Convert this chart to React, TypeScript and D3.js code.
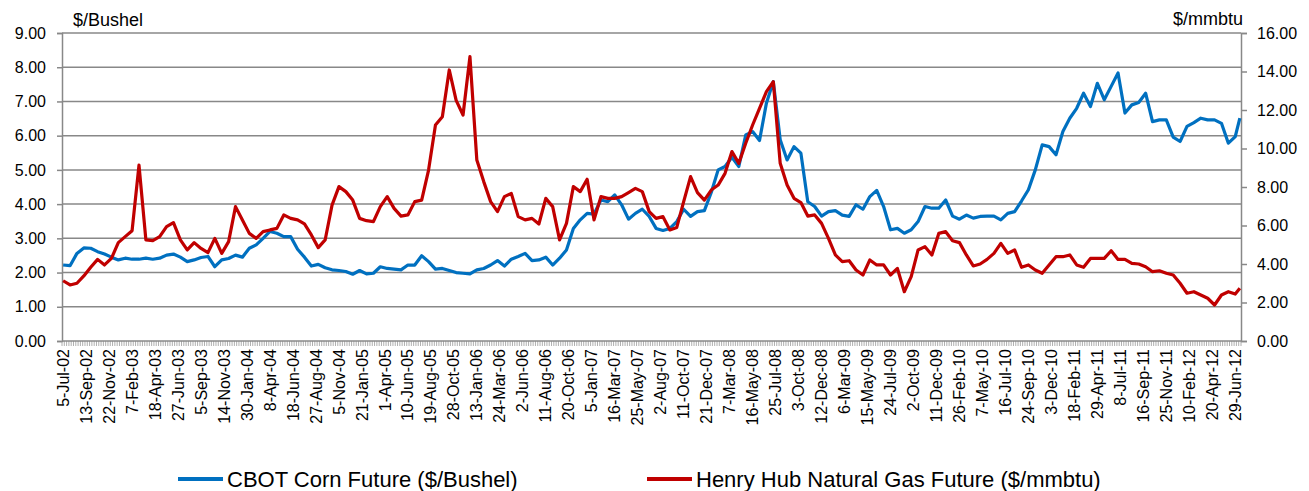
import React, { useEffect, useRef } from "react";
import * as d3 from "d3";

// weekly category axis, one sample every 3rd week (last one is week 512)
const weekCount = 513;
const sampleStep = 3;

const tickLabels = [
  "5-Jul-02", "13-Sep-02", "22-Nov-02", "7-Feb-03", "18-Apr-03", "27-Jun-03", "5-Sep-03", "14-Nov-03",
  "30-Jan-04", "8-Apr-04", "18-Jun-04", "27-Aug-04", "5-Nov-04", "21-Jan-05", "1-Apr-05", "10-Jun-05",
  "19-Aug-05", "28-Oct-05", "13-Jan-06", "24-Mar-06", "2-Jun-06", "11-Aug-06", "20-Oct-06", "5-Jan-07",
  "16-Mar-07", "25-May-07", "2-Aug-07", "11-Oct-07", "21-Dec-07", "7-Mar-08", "16-May-08", "25-Jul-08",
  "3-Oct-08", "12-Dec-08", "6-Mar-09", "15-May-09", "24-Jul-09", "2-Oct-09", "11-Dec-09", "26-Feb-10",
  "7-May-10", "16-Jul-10", "24-Sep-10", "3-Dec-10", "18-Feb-11", "29-Apr-11", "8-Jul-11", "16-Sep-11",
  "25-Nov-11", "10-Feb-12", "20-Apr-12", "29-Jun-12",
];

// CBOT corn ($/bushel)
const corn = [
  2.22, 2.20, 2.56, 2.72, 2.71, 2.61, 2.54, 2.45, 2.37, 2.42, 2.39, 2.39, 2.42, 2.39, 2.42, 2.51,
  2.54, 2.45, 2.32, 2.37, 2.44, 2.47, 2.17, 2.37, 2.41, 2.51, 2.45, 2.71, 2.81, 3.00, 3.20, 3.15,
  3.05, 3.05, 2.68, 2.45, 2.19, 2.24, 2.14, 2.08, 2.06, 2.03, 1.95, 2.06, 1.96, 1.98, 2.17, 2.12,
  2.10, 2.08, 2.22, 2.22, 2.49, 2.32, 2.10, 2.12, 2.06, 2.00, 1.98, 1.96, 2.08, 2.12, 2.22, 2.35,
  2.19, 2.39, 2.47, 2.56, 2.35, 2.37, 2.45, 2.22, 2.42, 2.66, 3.29, 3.54, 3.73, 3.71, 4.12, 4.07,
  4.27, 3.98, 3.56, 3.73, 3.85, 3.64, 3.29, 3.23, 3.29, 3.49, 3.85, 3.64, 3.78, 3.81, 4.34, 5.00,
  5.10, 5.37, 5.10, 6.02, 6.12, 5.86, 6.95, 7.58, 5.88, 5.29, 5.68, 5.49, 4.07, 3.93, 3.65, 3.78,
  3.81, 3.68, 3.64, 3.98, 3.85, 4.22, 4.40, 3.93, 3.25, 3.29, 3.15, 3.25, 3.49, 3.93, 3.88, 3.88,
  4.12, 3.65, 3.56, 3.68, 3.59, 3.64, 3.65, 3.65, 3.54, 3.73, 3.78, 4.09, 4.42, 5.00, 5.73, 5.68,
  5.44, 6.12, 6.51, 6.80, 7.24, 6.85, 7.53, 7.05, 7.44, 7.83, 6.66, 6.90, 6.97, 7.24, 6.41, 6.46,
  6.46, 5.96, 5.83, 6.27, 6.38, 6.51, 6.46, 6.46, 6.36, 5.78, 5.97, 6.51,
];

// Henry Hub natural gas ($/mmbtu)
const gas = [
  3.13, 2.91, 3.00, 3.38, 3.83, 4.24, 3.95, 4.29, 5.11, 5.42, 5.73, 9.14, 5.25, 5.21, 5.42, 5.94,
  6.15, 5.25, 4.73, 5.11, 4.81, 4.59, 5.33, 4.55, 5.16, 6.98, 6.29, 5.59, 5.33, 5.68, 5.77, 5.85,
  6.55, 6.37, 6.29, 6.08, 5.51, 4.85, 5.25, 7.06, 8.02, 7.76, 7.32, 6.37, 6.25, 6.20, 6.98, 7.50,
  6.89, 6.49, 6.55, 7.24, 7.32, 8.88, 11.22, 11.65, 14.08, 12.50, 11.74, 14.77, 9.40, 8.28, 7.24, 6.72,
  7.50, 7.67, 6.46, 6.29, 6.37, 6.08, 7.41, 6.98, 5.25, 6.11, 8.02, 7.76, 8.40, 6.29, 7.50, 7.41,
  7.41, 7.50, 7.71, 7.93, 7.76, 6.72, 6.37, 6.46, 5.77, 5.90, 7.24, 8.54, 7.71, 7.32, 7.84, 8.10,
  8.71, 9.84, 9.23, 10.27, 11.22, 12.09, 12.95, 13.47, 9.23, 8.10, 7.41, 7.19, 6.49, 6.55, 6.11, 5.33,
  4.47, 4.12, 4.17, 3.69, 3.43, 4.21, 3.95, 3.95, 3.43, 3.77, 2.56, 3.34, 4.73, 4.90, 4.47, 5.59,
  5.68, 5.21, 5.11, 4.47, 3.90, 4.00, 4.24, 4.55, 5.07, 4.55, 4.73, 3.83, 3.95, 3.69, 3.52, 3.95,
  4.38, 4.38, 4.47, 3.95, 3.83, 4.29, 4.29, 4.29, 4.69, 4.24, 4.24, 4.03, 4.00, 3.86, 3.60, 3.65,
  3.52, 3.43, 3.00, 2.48, 2.56, 2.39, 2.22, 1.87, 2.39, 2.56, 2.44, 2.74,
];

const leftTicks = [0, 1, 2, 3, 4, 5, 6, 7, 8, 9];
const rightTicks = [0, 2, 4, 6, 8, 10, 12, 14, 16];

const seriesNames = ["CBOT Corn Future ($/Bushel)", "Henry Hub Natural Gas Future ($/mmbtu)"];
const seriesColors = ["#0070C0", "#C00000"];

const font = "'Liberation Sans', Arial, sans-serif";
const axisGray = "#888888";

function Chart() {
  const ref = useRef<SVGSVGElement>(null);

  useEffect(() => {
    const svg = d3.select(ref.current);
    svg.selectAll("*").remove();

    const left = 62, right = 1241, top = 33, bottom = 341;

    const x = d3.scaleLinear().domain([0, weekCount]).range([left, right]);
    const yL = d3.scaleLinear().domain([0, 9]).range([bottom, top]);
    const yR = d3.scaleLinear().domain([0, 16]).range([bottom, top]);

    const weekOf = (k: number) => Math.min(k * sampleStep, weekCount - 1);

    // gridlines
    svg.append("g")
      .selectAll("line")
      .data(leftTicks.slice(1))
      .join("line")
      .attr("x1", left).attr("x2", right)
      .attr("y1", d => yL(d)).attr("y2", d => yL(d))
      .attr("stroke", axisGray).attr("stroke-width", 1.5);

    // left axis
    const gl = svg.append("g")
      .attr("transform", `translate(${left},0)`)
      .call(d3.axisLeft(yL).tickValues(leftTicks).tickSize(5).tickFormat(d3.format(".2f")));
    gl.select(".domain").attr("stroke", axisGray).attr("stroke-width", 1.5);
    gl.selectAll(".tick line").attr("stroke", axisGray).attr("stroke-width", 1.5);
    gl.selectAll(".tick text").attr("x", -16).attr("font-size", 16).attr("font-family", font).attr("fill", "#000");

    // right axis
    const gr = svg.append("g")
      .attr("transform", `translate(${right},0)`)
      .call(d3.axisRight(yR).tickValues(rightTicks).tickSize(6).tickFormat(d3.format(".2f")));
    gr.select(".domain").attr("stroke", axisGray).attr("stroke-width", 1.5);
    gr.selectAll(".tick line").attr("stroke", axisGray).attr("stroke-width", 1.5);
    gr.selectAll(".tick text").attr("x", 16).attr("font-size", 16).attr("font-family", font).attr("fill", "#000");

    // bottom axis: a tick between every weekly category, labels every 10th week
    const gx = svg.append("g").attr("transform", `translate(0,${bottom})`);
    gx.selectAll("line.minor")
      .data(d3.range(weekCount + 1))
      .join("line")
      .attr("class", "minor")
      .attr("x1", d => x(d)).attr("x2", d => x(d))
      .attr("y1", 0).attr("y2", 5)
      .attr("stroke", "#9a9a9a").attr("stroke-width", 0.8);
    gx.append("line")
      .attr("x1", left).attr("x2", right)
      .attr("stroke", axisGray).attr("stroke-width", 1.5);
    gx.selectAll("text")
      .data(tickLabels)
      .join("text")
      .attr("transform", (d, i) => `translate(${x(i * 10 + 0.5)},8) rotate(-90)`)
      .attr("dy", "0.35em")
      .attr("text-anchor", "end")
      .attr("font-size", 16)
      .attr("font-family", font)
      .text(d => d);

    // axis titles
    svg.append("text").attr("x", 73).attr("y", 26)
      .attr("font-size", 18).attr("font-family", font).text("$/Bushel");
    svg.append("text").attr("x", 1243).attr("y", 25).attr("text-anchor", "end")
      .attr("font-size", 18).attr("font-family", font).text("$/mmbtu");

    // series
    const cornLine = d3.line<number>().x((d, k) => x(weekOf(k) + 0.5)).y(d => yL(d));
    const gasLine = d3.line<number>().x((d, k) => x(weekOf(k) + 0.5)).y(d => yR(d));

    svg.append("path").datum(corn)
      .attr("d", cornLine)
      .attr("fill", "none").attr("stroke", seriesColors[0])
      .attr("stroke-width", 3.2).attr("stroke-linejoin", "round");
    svg.append("path").datum(gas)
      .attr("d", gasLine)
      .attr("fill", "none").attr("stroke", seriesColors[1])
      .attr("stroke-width", 3.2).attr("stroke-linejoin", "round");

    // legend
    const legendX = [178, 647];
    const lg = svg.append("g").selectAll("g")
      .data(seriesNames)
      .join("g")
      .attr("transform", (d, i) => `translate(${legendX[i]},479)`);
    lg.append("line")
      .attr("x1", 0).attr("x2", 45)
      .attr("stroke", (d, i) => seriesColors[i]).attr("stroke-width", 4);
    lg.append("text")
      .attr("x", 49).attr("y", 7.5)
      .attr("font-size", 22).attr("font-family", font)
      .text(d => d);
  }, []);

  return <svg ref={ref} width={1309} height={491} style={{ position: "absolute", left: 0, top: 0, background: "#fff" }} />;
}

export default function App() {
  return <Chart />;
}
